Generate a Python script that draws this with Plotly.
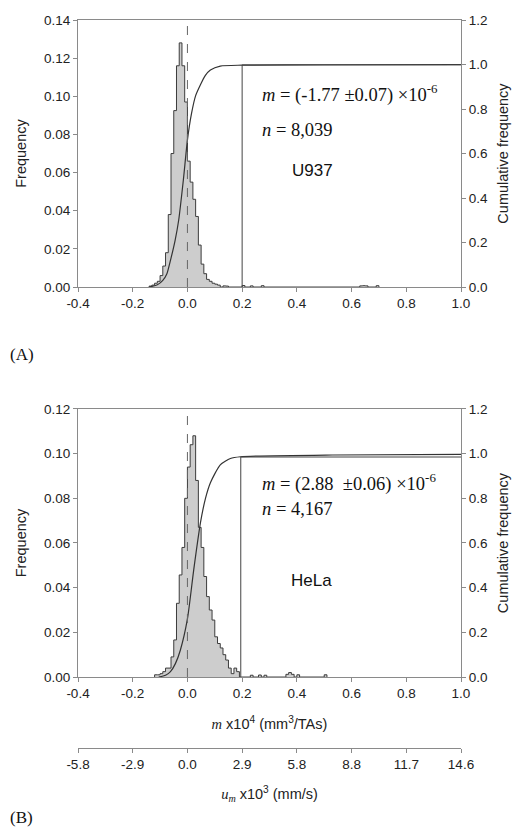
import plotly.graph_objects as go

BIN_W = 0.01

# ---------------- Panel A : U937 ----------------
u937_edges = [-0.14, -0.13, -0.12, -0.11, -0.10, -0.09, -0.08, -0.07, -0.06, -0.05,
              -0.04, -0.03, -0.02, -0.01, 0.00, 0.01, 0.02, 0.03, 0.04, 0.05,
              0.06, 0.07, 0.08, 0.09, 0.10, 0.11,
              0.13, 0.14, 0.20, 0.23, 0.27, 0.63, 0.64, 0.65, 0.69]
u937_freq = [0.0005, 0.001, 0.002, 0.003, 0.006, 0.011, 0.018, 0.038, 0.070, 0.0925,
             0.116, 0.128, 0.116, 0.097, 0.066, 0.055, 0.046, 0.037, 0.022, 0.012,
             0.007, 0.004, 0.003, 0.002, 0.0015, 0.001,
             0.0006, 0.0005, 0.0008, 0.0006, 0.0007, 0.0006, 0.0007, 0.0006, 0.0007]
u937_cum_x = [-0.14, -0.11, -0.09, -0.075, -0.06, -0.045, -0.032, -0.015, 0.0, 0.015,
              0.03, 0.048, 0.065, 0.084, 0.12, 0.2, 0.5, 1.0]
u937_cum_y = [0.0, 0.01, 0.03, 0.06, 0.13, 0.21, 0.30, 0.48, 0.66, 0.78,
              0.86, 0.91, 0.95, 0.975, 0.993, 0.997, 0.999, 1.0]
u937_cut = 0.2
u937_plateau = 0.998

# ---------------- Panel B : HeLa ----------------
hela_edges = [-0.12, -0.11, -0.10, -0.09, -0.08, -0.07, -0.06, -0.05, -0.04, -0.03,
              -0.02, -0.01, 0.00, 0.01, 0.02, 0.03, 0.04, 0.05, 0.06, 0.07,
              0.08, 0.09, 0.10, 0.11, 0.12, 0.13, 0.14, 0.15, 0.16, 0.17, 0.18,
              0.23, 0.26, 0.28, 0.36, 0.37, 0.38, 0.40, 0.50]
hela_freq = [0.001, 0.001, 0.0015, 0.0024, 0.004, 0.004, 0.009, 0.0166, 0.033, 0.0457,
             0.058, 0.080, 0.094, 0.104, 0.108, 0.088, 0.067, 0.058, 0.045, 0.036,
             0.030, 0.0255, 0.018, 0.015, 0.013, 0.010, 0.0076, 0.004, 0.0015, 0.004, 0.0024,
             0.0008, 0.0009, 0.0008, 0.0012, 0.0020, 0.0012, 0.0010, 0.0010]
hela_cum_x = [-0.105, -0.08, -0.062, -0.044, -0.026, 0.0, 0.023, 0.0475, 0.066, 0.084,
              0.12, 0.157, 0.194, 0.53, 1.0]
hela_cum_y = [0.0, 0.008, 0.024, 0.06, 0.12, 0.26, 0.48, 0.69, 0.80, 0.87,
              0.95, 0.978, 0.986, 0.994, 0.997]
hela_cut = 0.195
hela_plateau = 0.985

m_ticks = [-0.4, -0.2, 0.0, 0.2, 0.4, 0.6, 0.8, 1.0]
m_tick_labels = ["-0.4", "-0.2", "0.0", "0.2", "0.4", "0.6", "0.8", "1.0"]
um_tick_labels = ["-5.8", "-2.9", "0.0", "2.9", "5.8", "8.8", "11.7", "14.6"]

SANS = "Liberation Sans, Arial, sans-serif"
SERIF = "Liberation Serif, Times New Roman, serif"
AX_COL = "#8a8a8a"
HIST_FILL = "#cdcdcd"
HIST_LINE = "#3c3c3c"


def step_outline(edges, freq, w):
    pairs = sorted(zip(edges, freq))
    xs, ys = [], []
    prev_end = None
    for e, f in pairs:
        if prev_end is None or abs(e - prev_end) > 1e-9:
            if prev_end is not None:
                xs.append(prev_end); ys.append(0.0)
            xs.append(e); ys.append(0.0)
        xs.append(e); ys.append(f)
        xs.append(e + w); ys.append(f)
        prev_end = e + w
    xs.append(prev_end); ys.append(0.0)
    return xs, ys


fig = go.Figure()

panels = [
    (u937_edges, u937_freq, u937_cum_x, u937_cum_y, "x", "y", "y2"),
    (hela_edges, hela_freq, hela_cum_x, hela_cum_y, "x2", "y3", "y4"),
]
for edges, freq, cx, cy, xa, ya, ya2 in panels:
    hx, hy = step_outline(edges, freq, BIN_W)
    fig.add_trace(go.Scatter(x=hx, y=hy, mode="lines", fill="tozeroy",
                             fillcolor=HIST_FILL, line=dict(color=HIST_LINE, width=1),
                             xaxis=xa, yaxis=ya, showlegend=False, hoverinfo="skip"))
    fig.add_trace(go.Scatter(x=cx, y=cy, mode="lines", line=dict(color="#333333", width=1.2, shape="spline", smoothing=0.6),
                             xaxis=xa, yaxis=ya2, showlegend=False, hoverinfo="skip"))

# dummy trace so the secondary velocity axis is drawn
fig.add_trace(go.Scatter(x=[None], y=[None], xaxis="x3", yaxis="y3", showlegend=False, hoverinfo="skip"))

# reference lines
for xa, ya2, cut, plateau in [("x", "y2", u937_cut, u937_plateau), ("x2", "y4", hela_cut, hela_plateau)]:
    fig.add_shape(type="line", xref=xa, yref=ya2 + " domain", x0=0.0, x1=0.0, y0=0, y1=1,
                  line=dict(color="#666666", width=1, dash="dash"))
    fig.add_shape(type="line", xref=xa, yref=ya2, x0=cut, x1=cut, y0=0, y1=plateau,
                  line=dict(color="#444444", width=1))
    fig.add_shape(type="line", xref=xa, yref=ya2, x0=cut, x1=1.0, y0=plateau, y1=plateau,
                  line=dict(color="#444444", width=1))

tickfont = dict(family=SANS, size=13.5, color="#222222")
common_x = dict(range=[-0.4, 1.0], tickvals=m_ticks, ticktext=m_tick_labels, ticks="outside", ticklen=4,
                tickcolor=AX_COL, showline=True, linecolor=AX_COL, linewidth=1, showgrid=False,
                zeroline=False, tickfont=tickfont)
common_yl = dict(ticks="outside", ticklen=4, tickcolor=AX_COL, showline=True, linecolor=AX_COL,
                 linewidth=1, showgrid=False, zeroline=False, tickformat=".2f", tickfont=tickfont,
                 title=dict(text="Frequency", font=dict(family=SANS, size=14.5, color="#222222"), standoff=13))
common_yr = dict(ticks="outside", ticklen=4, tickcolor=AX_COL, showline=True, linecolor=AX_COL,
                 linewidth=1, showgrid=False, zeroline=False, tickformat=".1f", tickfont=tickfont,
                 range=[0, 1.2], dtick=0.2, side="right",
                 title=dict(text="Cumulative frequency", font=dict(family=SANS, size=14.5, color="#222222"), standoff=10))

fig.update_layout(
    width=526, height=835,
    margin=dict(l=78, r=65, t=20, b=87),
    paper_bgcolor="white", plot_bgcolor="white",
    xaxis=dict(common_x, domain=[0, 1], anchor="y", mirror=True),
    yaxis=dict(common_yl, domain=[0.6332, 1.0], range=[0, 0.14], dtick=0.02, anchor="x"),
    yaxis2=dict(common_yr, overlaying="y", anchor="x"),
    xaxis2=dict(common_x, domain=[0, 1], anchor="y3", mirror=True,
                title=dict(text="<span style='font-family:Liberation Serif'><i>m</i></span> x10<sup>4</sup> (mm<sup>3</sup>/TAs)",
                           font=dict(family=SANS, size=14.5, color="#222222"), standoff=18)),
    yaxis3=dict(common_yl, domain=[0.0975, 0.4657], range=[0, 0.12], dtick=0.02, anchor="x2"),
    yaxis4=dict(common_yr, overlaying="y3", anchor="x2"),
    xaxis3=dict(common_x, overlaying="x2", anchor="free", position=0, side="bottom",
                ticktext=um_tick_labels, mirror=False,
                title=dict(text="<span style='font-family:Liberation Serif'><i>u<sub>m</sub></i></span> x10<sup>3</sup> (mm/s)",
                           font=dict(family=SANS, size=14.5, color="#222222"), standoff=17)),
)

serif_font = dict(family=SERIF, size=18.5, color="#111111")
sans_font = dict(family=SANS, size=17, color="#111111")
annos = [
    ("x", "y", 0.267, 0.1017, "<i>m</i> = (-1.77 ±0.07) ×10<sup>-6</sup>", serif_font),
    ("x", "y", 0.267, 0.0823, "<i>n</i> = 8,039", serif_font),
    ("x", "y", 0.376, 0.0613, "U937", sans_font),
    ("x2", "y3", 0.267, 0.0869, "<i>m</i> = (2.88  ±0.06) ×10<sup>-6</sup>", serif_font),
    ("x2", "y3", 0.267, 0.0752, "<i>n</i> = 4,167", serif_font),
    ("x2", "y3", 0.373, 0.0434, "HeLa", sans_font),
]
for xr, yr, x, y, t, f in annos:
    fig.add_annotation(xref=xr, yref=yr, x=x, y=y, text=t, showarrow=False,
                       xanchor="left", yanchor="middle", font=f)

for lab, py in [("(A)", 0.541), ("(B)", -0.096)]:
    fig.add_annotation(xref="paper", yref="paper", x=-0.183, y=py, text=lab, showarrow=False,
                       xanchor="left", yanchor="middle", font=dict(family=SERIF, size=17, color="#111111"))

fig.write_html("out.html")
